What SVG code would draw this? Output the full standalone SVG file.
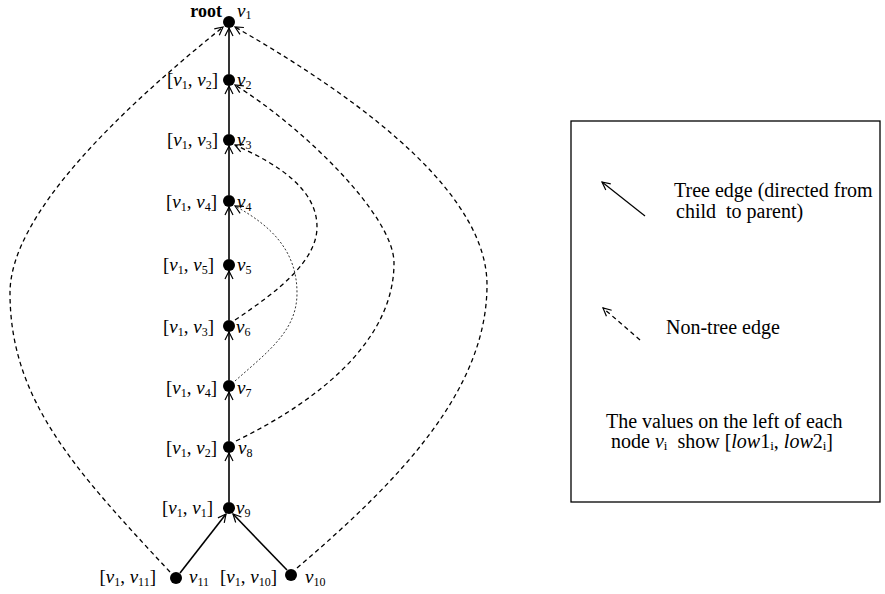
<svg xmlns="http://www.w3.org/2000/svg" width="885" height="594" viewBox="0 0 885 594">
<style>
text{font-family:"Liberation Serif","Times New Roman",serif;fill:#000}
.lb{font-size:19px}
.lg{font-size:20px}
.it{font-style:italic}
.sb{font-size:12px}
.tree{stroke:#000;stroke-width:1.6;fill:none}
.lt{stroke:#000;stroke-width:1.2;fill:none}
.nt{stroke:#000;stroke-width:1.3;fill:none;stroke-dasharray:4.5,3.5}
.dot{stroke:#000;stroke-width:0.8;fill:none;stroke-dasharray:2,2}
.nd{fill:#000}
</style>
<defs>
<marker id="ah" viewBox="-10 -6 12 12" markerWidth="12" markerHeight="12" refX="0" refY="0" orient="auto" markerUnits="userSpaceOnUse">
<path d="M-8,-4 L0,0 L-8,4" fill="none" stroke="#000" stroke-width="1.2"/>
</marker>
</defs>

<g id="connectors">
<line class="tree" x1="229" y1="74" x2="229" y2="28" marker-end="url(#ah)"/>
<line class="tree" x1="229" y1="134" x2="229" y2="86" marker-end="url(#ah)"/>
<line class="tree" x1="229" y1="195" x2="229" y2="146" marker-end="url(#ah)"/>
<line class="tree" x1="229" y1="259" x2="229" y2="207" marker-end="url(#ah)"/>
<line class="tree" x1="229" y1="320" x2="229" y2="271" marker-end="url(#ah)"/>
<line class="tree" x1="229" y1="380" x2="229" y2="332" marker-end="url(#ah)"/>
<line class="tree" x1="229" y1="441" x2="229" y2="392" marker-end="url(#ah)"/>
<line class="tree" x1="229" y1="502" x2="229" y2="453" marker-end="url(#ah)"/>
<line class="tree" x1="180" y1="573" x2="226" y2="514" marker-end="url(#ah)"/>
<line class="tree" x1="287" y1="570" x2="233" y2="514" marker-end="url(#ah)"/>
<path class="nt" d="M170,572 C75,470 10,400 10,293 C10,215 120,110 223,27" marker-end="url(#ah)"/>
<path class="nt" d="M297,568 C400,480 487,390 487,285 C487,200 380,110 235,27" marker-end="url(#ah)"/>
<path class="nt" d="M236,441 C320,400 394,340 394,263 C394,215 300,125 235,85" marker-end="url(#ah)"/>
<path class="nt" d="M235,320 C280,290 317,260 317,227 C317,190 280,165 235,145" marker-end="url(#ah)"/>
<path class="dot" d="M235,381 C270,350 297,330 297,293 C297,250 270,225 235,206" marker-end="url(#ah)"/>
</g>

<g id="v1">
<circle class="nd" cx="229" cy="22" r="6"/>
<text x="222" y="17" font-size="18" text-anchor="end" font-weight="bold">root</text>
<text class="lb" x="237" y="17"><tspan class="it">v</tspan><tspan class="sb" dy="2">1</tspan></text>
</g>
<g id="v2">
<circle class="nd" cx="229" cy="80" r="6"/>
<text class="lb" x="218" y="86" text-anchor="end">[<tspan class="it">v</tspan><tspan class="sb" dy="3">1</tspan><tspan dy="-3">, </tspan><tspan class="it">v</tspan><tspan class="sb" dy="3">2</tspan><tspan dy="-3">]</tspan></text>
<text class="lb" x="237" y="86"><tspan class="it">v</tspan><tspan class="sb" dy="3">2</tspan></text>
</g>
<g id="v3">
<circle class="nd" cx="229" cy="140" r="6"/>
<text class="lb" x="218" y="146" text-anchor="end">[<tspan class="it">v</tspan><tspan class="sb" dy="3">1</tspan><tspan dy="-3">, </tspan><tspan class="it">v</tspan><tspan class="sb" dy="3">3</tspan><tspan dy="-3">]</tspan></text>
<text class="lb" x="237" y="146"><tspan class="it">v</tspan><tspan class="sb" dy="3">3</tspan></text>
</g>
<g id="v4">
<circle class="nd" cx="229" cy="201" r="6"/>
<text class="lb" x="217" y="208" text-anchor="end">[<tspan class="it">v</tspan><tspan class="sb" dy="3">1</tspan><tspan dy="-3">, </tspan><tspan class="it">v</tspan><tspan class="sb" dy="3">4</tspan><tspan dy="-3">]</tspan></text>
<text class="lb" x="237" y="208"><tspan class="it">v</tspan><tspan class="sb" dy="3">4</tspan></text>
</g>
<g id="v5">
<circle class="nd" cx="229" cy="265" r="6"/>
<text class="lb" x="214" y="271" text-anchor="end">[<tspan class="it">v</tspan><tspan class="sb" dy="3">1</tspan><tspan dy="-3">, </tspan><tspan class="it">v</tspan><tspan class="sb" dy="3">5</tspan><tspan dy="-3">]</tspan></text>
<text class="lb" x="237" y="271"><tspan class="it">v</tspan><tspan class="sb" dy="3">5</tspan></text>
</g>
<g id="v6">
<circle class="nd" cx="229" cy="326" r="6"/>
<text class="lb" x="214" y="333" text-anchor="end">[<tspan class="it">v</tspan><tspan class="sb" dy="3">1</tspan><tspan dy="-3">, </tspan><tspan class="it">v</tspan><tspan class="sb" dy="3">3</tspan><tspan dy="-3">]</tspan></text>
<text class="lb" x="236" y="333"><tspan class="it">v</tspan><tspan class="sb" dy="3">6</tspan></text>
</g>
<g id="v7">
<circle class="nd" cx="229" cy="386" r="6"/>
<text class="lb" x="217" y="394" text-anchor="end">[<tspan class="it">v</tspan><tspan class="sb" dy="3">1</tspan><tspan dy="-3">, </tspan><tspan class="it">v</tspan><tspan class="sb" dy="3">4</tspan><tspan dy="-3">]</tspan></text>
<text class="lb" x="237" y="394"><tspan class="it">v</tspan><tspan class="sb" dy="3">7</tspan></text>
</g>
<g id="v8">
<circle class="nd" cx="229" cy="447" r="6"/>
<text class="lb" x="217" y="454" text-anchor="end">[<tspan class="it">v</tspan><tspan class="sb" dy="3">1</tspan><tspan dy="-3">, </tspan><tspan class="it">v</tspan><tspan class="sb" dy="3">2</tspan><tspan dy="-3">]</tspan></text>
<text class="lb" x="238" y="454"><tspan class="it">v</tspan><tspan class="sb" dy="3">8</tspan></text>
</g>
<g id="v9">
<circle class="nd" cx="229" cy="508" r="6"/>
<text class="lb" x="213" y="514" text-anchor="end">[<tspan class="it">v</tspan><tspan class="sb" dy="3">1</tspan><tspan dy="-3">, </tspan><tspan class="it">v</tspan><tspan class="sb" dy="3">1</tspan><tspan dy="-3">]</tspan></text>
<text class="lb" x="236" y="514"><tspan class="it">v</tspan><tspan class="sb" dy="3">9</tspan></text>
</g>
<g id="v11">
<circle class="nd" cx="176" cy="578" r="6"/>
<text class="lb" x="156" y="583" text-anchor="end">[<tspan class="it">v</tspan><tspan class="sb" dy="3">1</tspan><tspan dy="-3">, </tspan><tspan class="it">v</tspan><tspan class="sb" dy="3">11</tspan><tspan dy="-3">]</tspan></text>
<text class="lb" x="189" y="583"><tspan class="it">v</tspan><tspan class="sb" dy="3">11</tspan></text>
</g>
<g id="v10">
<circle class="nd" cx="291" cy="575" r="6"/>
<text class="lb" x="277" y="583" text-anchor="end">[<tspan class="it">v</tspan><tspan class="sb" dy="3">1</tspan><tspan dy="-3">, </tspan><tspan class="it">v</tspan><tspan class="sb" dy="3">10</tspan><tspan dy="-3">]</tspan></text>
<text class="lb" x="305" y="583"><tspan class="it">v</tspan><tspan class="sb" dy="3">10</tspan></text>
</g>

<g id="legend">
<rect x="571" y="121" width="309" height="381" fill="none" stroke="#000" stroke-width="1.3"/>
<line class="lt" x1="645" y1="216" x2="602" y2="182" marker-end="url(#ah)"/>
<text class="lg" x="674" y="197">Tree edge (directed from</text>
<text class="lg" x="676" y="218" xml:space="preserve">child  to parent)</text>
<line class="nt" x1="640" y1="340" x2="603" y2="308" marker-end="url(#ah)"/>
<text class="lg" x="666" y="334">Non-tree edge</text>
<text class="lg" x="606" y="428">The values on the left of each</text>
<text class="lg" x="611" y="448" xml:space="preserve">node <tspan class="it">v</tspan><tspan font-size="13" dy="2">i</tspan><tspan dy="-2">  show [</tspan><tspan class="it">low</tspan>1<tspan font-size="13" dy="2">i</tspan><tspan dy="-2">, </tspan><tspan class="it">low</tspan>2<tspan font-size="13" dy="2">i</tspan><tspan dy="-2">]</tspan></text>
</g>
</svg>
